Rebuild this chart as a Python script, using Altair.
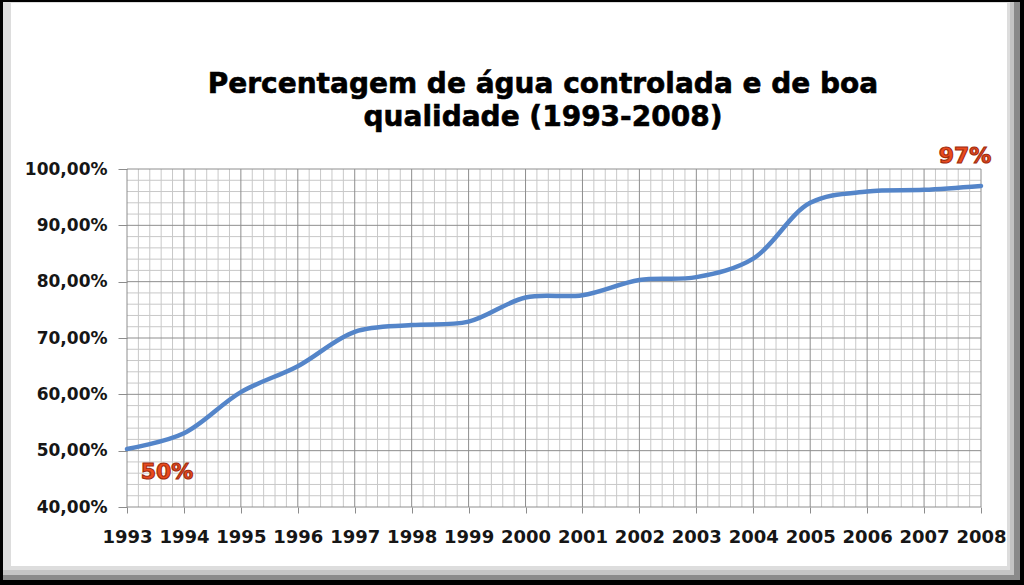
import altair as alt
import pandas as pd

# ---- data ----
years = [1993, 1994, 1995, 1996, 1997, 1998, 1999, 2000,
         2001, 2002, 2003, 2004, 2005, 2006, 2007, 2008]
pct = [50.3, 53.1, 60.4, 65.0, 71.1, 72.3, 72.9, 77.2,
       77.6, 80.3, 80.8, 84.1, 94.0, 96.0, 96.3, 97.0]
y_ticks = [40, 50, 60, 70, 80, 90, 100]
title_lines = ["Percentagem de água controlada e de boa", "qualidade (1993-2008)"]
first_label = "50%"
last_label = "97%"

# grid positions (minor: 5 subdivisions per major interval)
minor_x = [1993 + i * 0.2 for i in range(76) if i % 5 != 0]
minor_y = [40 + i * 2 for i in range(31) if i % 5 != 0]

W, H = 854, 338
FONT = "DejaVu Sans"

df = pd.DataFrame({"year": years, "pct": pct})
one = pd.DataFrame({"a": [0]})

xs = alt.Scale(domain=[1993, 2008], nice=False, zero=False)
ys = alt.Scale(domain=[40, 100], nice=False, zero=False)

X = alt.X("year:Q", scale=xs, axis=alt.Axis(
    values=years, format="d", grid=False, domain=False, title=None,
    ticks=True, tickSize=6, tickColor="#8c8c8c", tickWidth=1,
    labelFont=FONT, labelFontSize=18, labelFontWeight="bold",
    labelColor="#161616", labelPadding=15, labelOverlap=False,
    labelFlush=False, zindex=2))
Y = alt.Y("pct:Q", scale=ys, axis=alt.Axis(
    values=y_ticks, grid=False, domain=False, title=None,
    ticks=True, tickSize=9, tickColor="#8c8c8c", tickWidth=1,
    labelExpr="replace(format(datum.value, '.2f'), '.', ',') + '%'",
    labelFont=FONT, labelFontSize=17, labelFontWeight="bold",
    labelColor="#161616", labelPadding=11, zindex=2))


def frame_rect(x0, x1, y0, y1, color):
    return alt.Chart(one).mark_rect(color=color).encode(
        x=alt.value(x0), x2=alt.value(x1), y=alt.value(y0), y2=alt.value(y1))


# frame / bevel (plot origin is at canvas 127,169)
frame = [
    frame_rect(-127, 897, -169, 416, "#000000"),
    frame_rect(-124, 893, -167, 411, "#8a8a8a"),
    frame_rect(-124, 887, -167, 406, "#c4c4c4"),
    frame_rect(-124, 883, -167, 401, "#dddddd"),
    frame_rect(-116, 880, -166, 397, "#ffffff"),
]

minor_v = alt.Chart(pd.DataFrame({"year": minor_x})).mark_rule(
    color="#c8c8c8", strokeWidth=1).encode(x=X)
minor_h = alt.Chart(pd.DataFrame({"pct": minor_y})).mark_rule(
    color="#c8c8c8", strokeWidth=1).encode(y=Y)
major_v = alt.Chart(pd.DataFrame({"year": years})).mark_rule(
    color="#8e8e8e", strokeWidth=1).encode(x=X)
major_h = alt.Chart(pd.DataFrame({"pct": y_ticks})).mark_rule(
    color="#8e8e8e", strokeWidth=1).encode(y=Y)

line = alt.Chart(df).mark_line(
    interpolate="catmull-rom", strokeWidth=4.5, color="#5485C9",
    strokeCap="round").encode(x=X, y=Y)

lab_first = alt.Chart(pd.DataFrame({"year": [years[0]], "pct": [pct[0]], "t": [first_label]})).mark_text(
    font=FONT, fontSize=22, fontWeight="bold", color="#EA4A1E", stroke="#A02C0E",
    strokeWidth=1.1, align="center", baseline="alphabetic", dx=40, dy=30
).encode(x=X, y=Y, text="t:N")
lab_last = alt.Chart(pd.DataFrame({"year": [years[-1]], "pct": [pct[-1]], "t": [last_label]})).mark_text(
    font=FONT, fontSize=22, fontWeight="bold", color="#EA4A1E", stroke="#A02C0E",
    strokeWidth=1.1, align="center", baseline="alphabetic", dx=-16, dy=-23
).encode(x=X, y=Y, text="t:N")

title1 = alt.Chart(one).mark_text(
    text=title_lines[0], font=FONT, fontSize=28, fontWeight="bold", color="#000000",
    stroke="#000000", strokeWidth=0.6,
    align="center", baseline="alphabetic").encode(x=alt.value(416), y=alt.value(-76))
title2 = alt.Chart(one).mark_text(
    text=title_lines[1], font=FONT, fontSize=28, fontWeight="bold", color="#000000",
    stroke="#000000", strokeWidth=0.6,
    align="center", baseline="alphabetic").encode(x=alt.value(416), y=alt.value(-43))

chart = alt.layer(
    *frame, minor_v, minor_h, major_v, major_h, line, lab_first, lab_last, title1, title2
).properties(
    width=W, height=H, padding=0, background="#ffffff"
).configure_view(stroke=None)

chart.save("out.html", embed_options={"renderer": "svg", "actions": False})
